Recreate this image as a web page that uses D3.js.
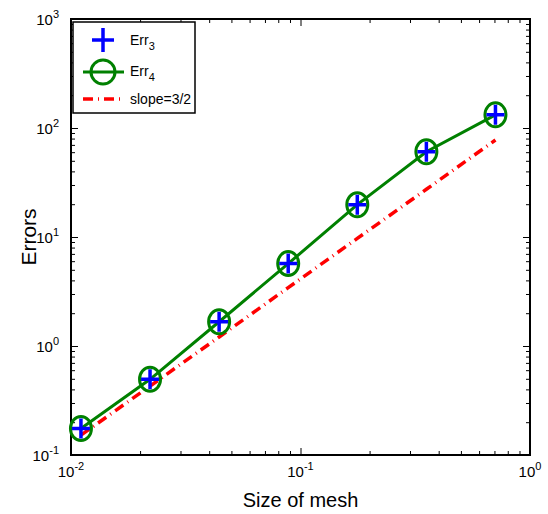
<!DOCTYPE html>
<html lang="en">
<head>
<meta charset="UTF-8">
<title>Errors vs mesh size</title>
<script src="https://d3js.org/d3.v7.min.js"></script>
<style>
  body { margin: 0; background: #fff; }
  text { font-family: "Liberation Sans", Arial, sans-serif; }
</style>
</head>
<body>
<div id="chart"></div>
<script>
// mesh sizes and errors
const meshSize = [0.01105, 0.0221, 0.0442, 0.0884, 0.1768, 0.3536, 0.7071];
const err3 = [0.175, 0.495, 1.67, 5.7, 19.8, 60.5, 132];
const err4 = [0.175, 0.495, 1.67, 5.7, 19.8, 60.5, 132];
const slopeRef = [0.152, 0.429, 1.21, 3.43, 9.70, 27.4, 77.6];
const xTickExp = [-2, -1, 0];
const yTickExp = [-1, 0, 1, 2, 3];

const W = 548, H = 514;
const plotL = 71, plotR = 530, plotT = 19, plotB = 455;

const svg = d3.select('#chart').append('svg')
    .attr('width', W)
    .attr('height', H);

const x = d3.scaleLog().domain([1e-2, 1]).range([plotL, plotR]);
const y = d3.scaleLog().domain([1e-1, 1e3]).range([plotB, plotT]);

// minor + major ticks, pointing inwards on all four sides
const isMajor = v => Math.abs(Math.log10(v) - Math.round(Math.log10(v))) < 1e-6;
const xMinor = x.ticks().filter(v => !isMajor(v));
const yMinor = y.ticks().filter(v => !isMajor(v));
const xMajor = xTickExp.map(e => Math.pow(10, e));
const yMajor = yTickExp.map(e => Math.pow(10, e));

function addAxis(axisFn, scale, vals, size, transform) {
    const g = svg.append('g')
        .attr('transform', transform)
        .call(axisFn(scale).tickValues(vals).tickSize(size).tickFormat(''));
    g.select('.domain').remove();
    g.selectAll('line').attr('stroke', '#000').attr('stroke-width', 1);
}
addAxis(d3.axisBottom, x, xMinor, -4, `translate(0,${plotB})`);
addAxis(d3.axisBottom, x, xMajor, -7, `translate(0,${plotB})`);
addAxis(d3.axisTop, x, xMinor, -4, `translate(0,${plotT})`);
addAxis(d3.axisTop, x, xMajor, -7, `translate(0,${plotT})`);
addAxis(d3.axisLeft, y, yMinor, -4, `translate(${plotL},0)`);
addAxis(d3.axisLeft, y, yMajor, -7, `translate(${plotL},0)`);
addAxis(d3.axisRight, y, yMinor, -4, `translate(${plotR},0)`);
addAxis(d3.axisRight, y, yMajor, -7, `translate(${plotR},0)`);

// box
svg.append('rect')
    .attr('x', plotL)
    .attr('y', plotT)
    .attr('width', plotR - plotL)
    .attr('height', plotB - plotT)
    .attr('fill', 'none')
    .attr('stroke', '#000')
    .attr('stroke-width', 2);

// tick labels with superscript exponents
function powLabel(px, py, exp, anchor) {
    const t = svg.append('text')
        .attr('x', px)
        .attr('y', py)
        .attr('text-anchor', anchor)
        .attr('font-size', 15)
        .attr('fill', '#000');
    t.append('tspan').text('10');
    t.append('tspan').attr('dy', -7).attr('font-size', 11).text(exp);
}
xTickExp.forEach(e => powLabel(x(Math.pow(10, e)), plotB + 22, e, 'middle'));
yTickExp.forEach(e => powLabel(plotL - 12, y(Math.pow(10, e)) + 6, e, 'end'));

// axis titles
svg.append('text')
    .attr('x', (plotL + plotR) / 2)
    .attr('y', 507)
    .attr('text-anchor', 'middle')
    .attr('font-size', 20)
    .text('Size of mesh');

svg.append('text')
    .attr('transform', `translate(36,${(plotT + plotB) / 2}) rotate(-90)`)
    .attr('text-anchor', 'middle')
    .attr('font-size', 21)
    .text('Errors');

// slope reference line
const line = d3.line().x(d => x(d[0])).y(d => y(d[1]));
const slopeStyle = sel => sel
    .attr('fill', 'none')
    .attr('stroke', '#ff0000')
    .attr('stroke-width', 3.5)
    .attr('stroke-dasharray', '10,5,1,5');

svg.append('path')
    .datum(meshSize.map((h, i) => [h, slopeRef[i]]))
    .attr('d', line)
    .call(slopeStyle);

// Err4: green line with circle markers
svg.append('path')
    .datum(meshSize.map((h, i) => [h, err4[i]]))
    .attr('d', line)
    .attr('fill', 'none')
    .attr('stroke', '#008000')
    .attr('stroke-width', 3);

function circleMarker(g, cx, cy, rx, ry) {
    g.append('ellipse')
        .attr('cx', cx)
        .attr('cy', cy)
        .attr('rx', rx)
        .attr('ry', ry)
        .attr('fill', 'none')
        .attr('stroke', '#008000')
        .attr('stroke-width', 3);
}
function plusMarker(g, cx, cy, hw, hh) {
    g.append('path')
        .attr('d', `M${cx - hw},${cy}H${cx + hw}M${cx},${cy - hh}V${cy + hh}`)
        .attr('stroke', '#0000ff')
        .attr('stroke-width', 3.5)
        .attr('fill', 'none');
}

const marks = svg.append('g');
meshSize.forEach((h, i) => circleMarker(marks, x(h), y(err4[i]), 10.5, 12));
meshSize.forEach((h, i) => plusMarker(marks, x(h), y(err3[i]), 9, 10));

// legend
const lg = svg.append('g');
lg.append('rect')
    .attr('x', 73)
    .attr('y', 22)
    .attr('width', 122)
    .attr('height', 91)
    .attr('fill', '#fff')
    .attr('stroke', '#000')
    .attr('stroke-width', 1.5);

plusMarker(lg, 103, 40, 11, 12);
lg.append('line')
    .attr('x1', 83).attr('x2', 124)
    .attr('y1', 72).attr('y2', 72)
    .attr('stroke', '#008000')
    .attr('stroke-width', 3);
circleMarker(lg, 103, 72, 12, 12);
lg.append('path')
    .attr('d', 'M83,99H122')
    .call(slopeStyle);

function legendText(ty, main, sub) {
    const t = lg.append('text')
        .attr('x', 130)
        .attr('y', ty)
        .attr('font-size', 14)
        .text(main);
    if (sub) t.append('tspan').attr('dy', 5).attr('font-size', 11).text(sub);
}
legendText(45, 'Err', '3');
legendText(76, 'Err', '4');
legendText(104, 'slope=3/2');
</script>
</body>
</html>
